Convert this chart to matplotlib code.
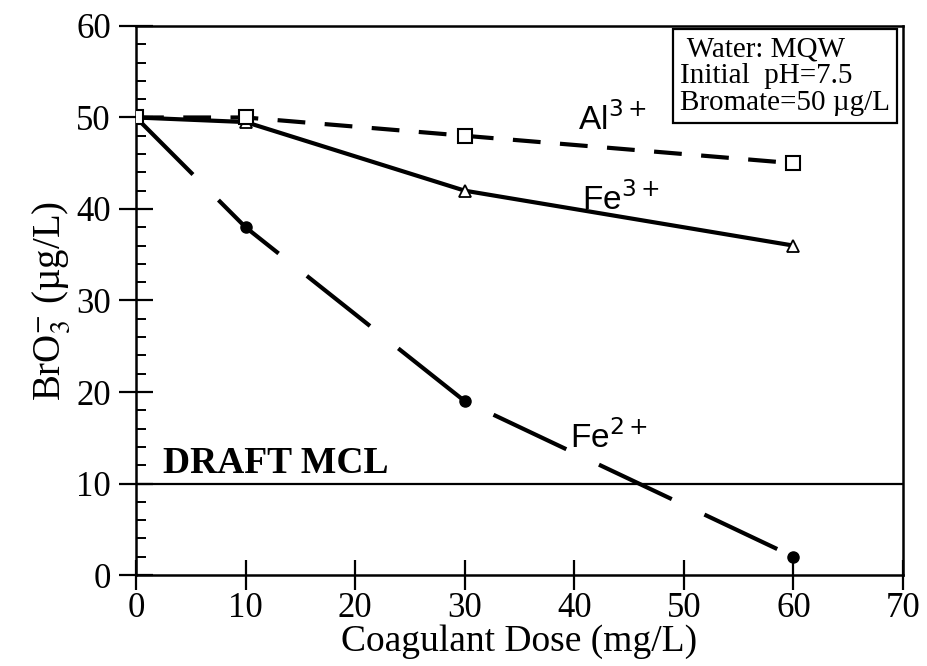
import numpy as np
import matplotlib.pyplot as plt
from matplotlib.ticker import MultipleLocator

plt.rcParams['font.family'] = ['Liberation Serif', 'DejaVu Serif']
plt.rcParams['mathtext.fontset'] = 'stix'

# bromate remaining vs. coagulant dose
dose = [0, 10, 30, 60]
al3 = [50, 50, 48, 45]
fe3 = [50, 49.5, 42, 36]
fe2 = [50, 38, 19, 2]
mcl = 10

fig = plt.figure(figsize=(9.28, 6.66), dpi=100)
ax = fig.add_axes([0.1466, 0.1366, 0.8265, 0.8244])

lw = 3
# Fe2+ long dashes, filled circles
ax.plot(dose, fe2, color='black', lw=lw, dashes=(58 / lw, 26 / lw),
        marker='o', ms=8, mfc='black', mec='black', zorder=3)
# Fe3+ solid, open triangles
ax.plot(dose, fe3, color='black', lw=lw, marker='^', ms=9,
        mfc='white', mec='black', mew=1.3, zorder=4)
# Al3+ short dashes, open squares
ax.plot(dose, al3, color='black', lw=lw, dashes=(20 / lw, 14 / lw),
        marker='s', ms=10, mfc='white', mec='black', mew=1.5, zorder=5)

ax.axhline(mcl, color='black', lw=1.6, zorder=2)
ax.text(2.5, mcl + 1.1, 'DRAFT MCL', fontsize=27, fontweight='bold')

ion = dict(fontsize=24, family='Liberation Sans', math_fontfamily='dejavusans')
ax.text(40.3, 48.6, 'Al$^{3+}$', **ion)
ax.text(40.7, 39.9, 'Fe$^{3+}$', **ion)
ax.text(39.6, 13.9, 'Fe$^{2+}$', **ion)

ax.text(68.8, 58.9, ' Water: MQW\nInitial  pH=7.5\nBromate=50 µg/L',
        fontsize=21, va='top', ha='right', multialignment='left',
        linespacing=1.05,
        bbox=dict(boxstyle='square,pad=0.25', fc='white', ec='black', lw=1.6))

ax.set_xlim(0, 70)
ax.set_ylim(0, 60)
ax.xaxis.set_major_locator(MultipleLocator(10))
ax.yaxis.set_major_locator(MultipleLocator(10))
ax.yaxis.set_minor_locator(MultipleLocator(2))

ax.tick_params(axis='x', which='major', direction='inout', length=22, width=1.6,
               labelsize=25, pad=1, top=False)
ax.tick_params(axis='y', which='major', direction='inout', length=24, width=1.6,
               labelsize=25, pad=6, right=False)
ax.tick_params(axis='y', which='minor', direction='in', length=7, width=1.4,
               right=False)
for s in ax.spines.values():
    s.set_linewidth(1.8)

ax.set_xlabel('Coagulant Dose (mg/L)', fontsize=27, labelpad=0)
ax.set_ylabel('BrO$_3^{-}$ (µg/L)', fontsize=28, labelpad=3)

fig.savefig('out.png', dpi=100)
